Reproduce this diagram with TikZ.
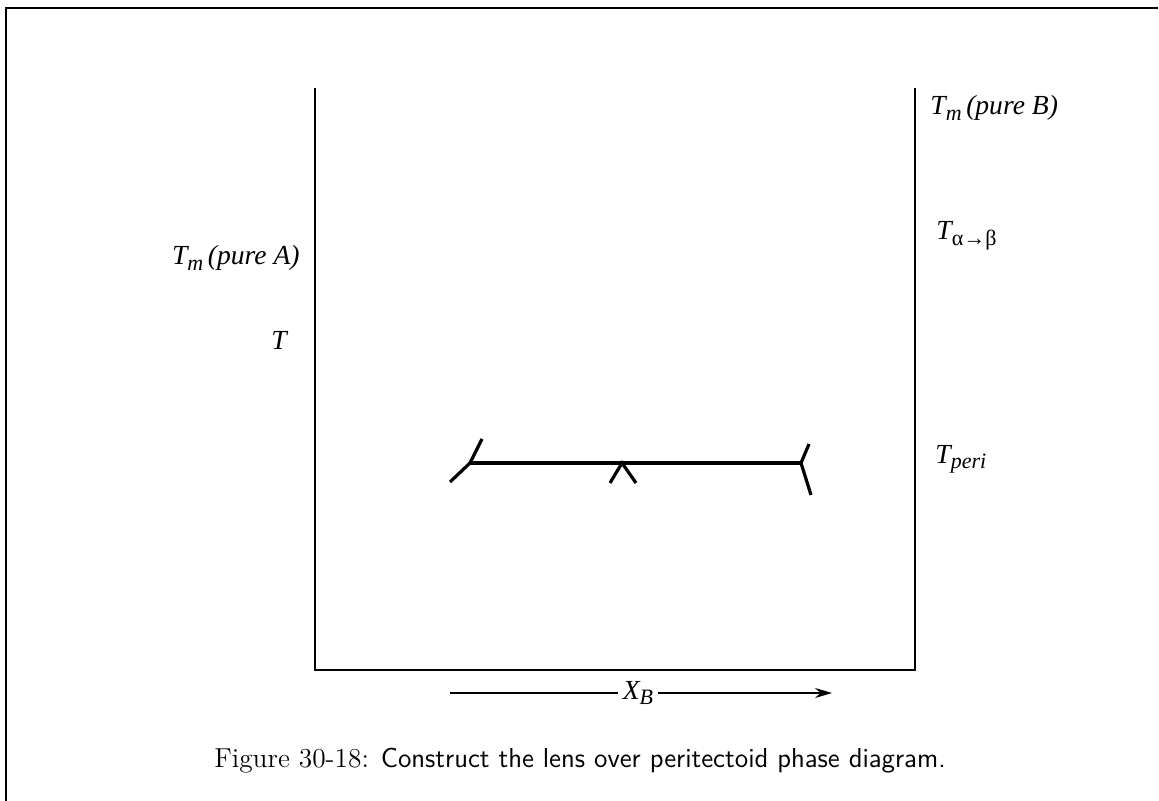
\documentclass[tikz,border=0pt]{standalone}
\usepackage{fontspec}
\newfontfamily\tms{Liberation Serif}
\usetikzlibrary{arrows.meta}
\newcommand{\lbsub}[1]{\raisebox{-0.45ex}{\fontsize{11}{12}\selectfont #1}}
\tikzset{
  frameline/.style={line width=1pt},
  axisline/.style={line width=1pt},
  tieline/.style={line width=1.6pt, line join=miter},
  lbl/.style={inner sep=0pt, font=\tms\itshape\fontsize{13.8}{15}\selectfont},
}
\begin{document}
\begin{tikzpicture}[x=0.5pt,y=-0.5pt]
\useasboundingbox (0,0) rectangle (1159,801);
% frame
\draw[frameline] (6,801) -- (6,8) -- (1158,8);
% axes
\coordinate (ltop) at (315,88);
\coordinate (lbot) at (315,670);
\coordinate (rbot) at (915,670);
\coordinate (rtop) at (915,88);
\draw[axisline] (ltop) -- (lbot) -- (rbot) -- (rtop);
% tie line
\coordinate (lj) at (470,463);
\coordinate (lu) at (482,439);
\coordinate (ld) at (450,482);
\coordinate (mj) at (622,463);
\coordinate (ml) at (610,483);
\coordinate (mr) at (636,483);
\coordinate (rj) at (801,463);
\coordinate (ru) at (809,444);
\coordinate (rd) at (811,495);
\draw[tieline] (ld) -- (lj) -- (lu);
\draw[tieline] (lj) -- (rj);
\draw[tieline] (ml) -- (mj) -- (mr);
\draw[tieline] (ru) -- (rj) -- (rd);
% labels
\node[lbl, anchor=base west] (tmb) at (930,115) {T\lbsub{m}\,(pure B)};
\node[lbl, anchor=base west] (tab) at (936,240) {T\lbsub{\upshape α→β}};
\node[lbl, anchor=base west] (tpe) at (935,463) {T\lbsub{peri}};
\node[lbl, anchor=base east] (tma) at (300,265) {T\lbsub{m}\,(pure A)};
\node[lbl, anchor=base east] (tt) at (287,350) {T};
% composition arrow
\coordinate (xs) at (450,693);
\coordinate (xe) at (832,693);
\node[lbl, inner xsep=2pt] (xb) at (638,693) {X\lbsub{B}};
\draw[line width=0.8pt] (xs) -- (xb.west);
\draw[line width=0.8pt, -{Stealth[length=8.5pt,width=5pt]}] (xb.east) -- (xe);
% caption
\node[anchor=base, inner sep=0pt, font=\fontsize{13.7}{16}\selectfont] (cap) at (580,767)
  {Figure 30-18: \sffamily Construct the lens over peritectoid phase diagram.};
\end{tikzpicture}
\end{document}
